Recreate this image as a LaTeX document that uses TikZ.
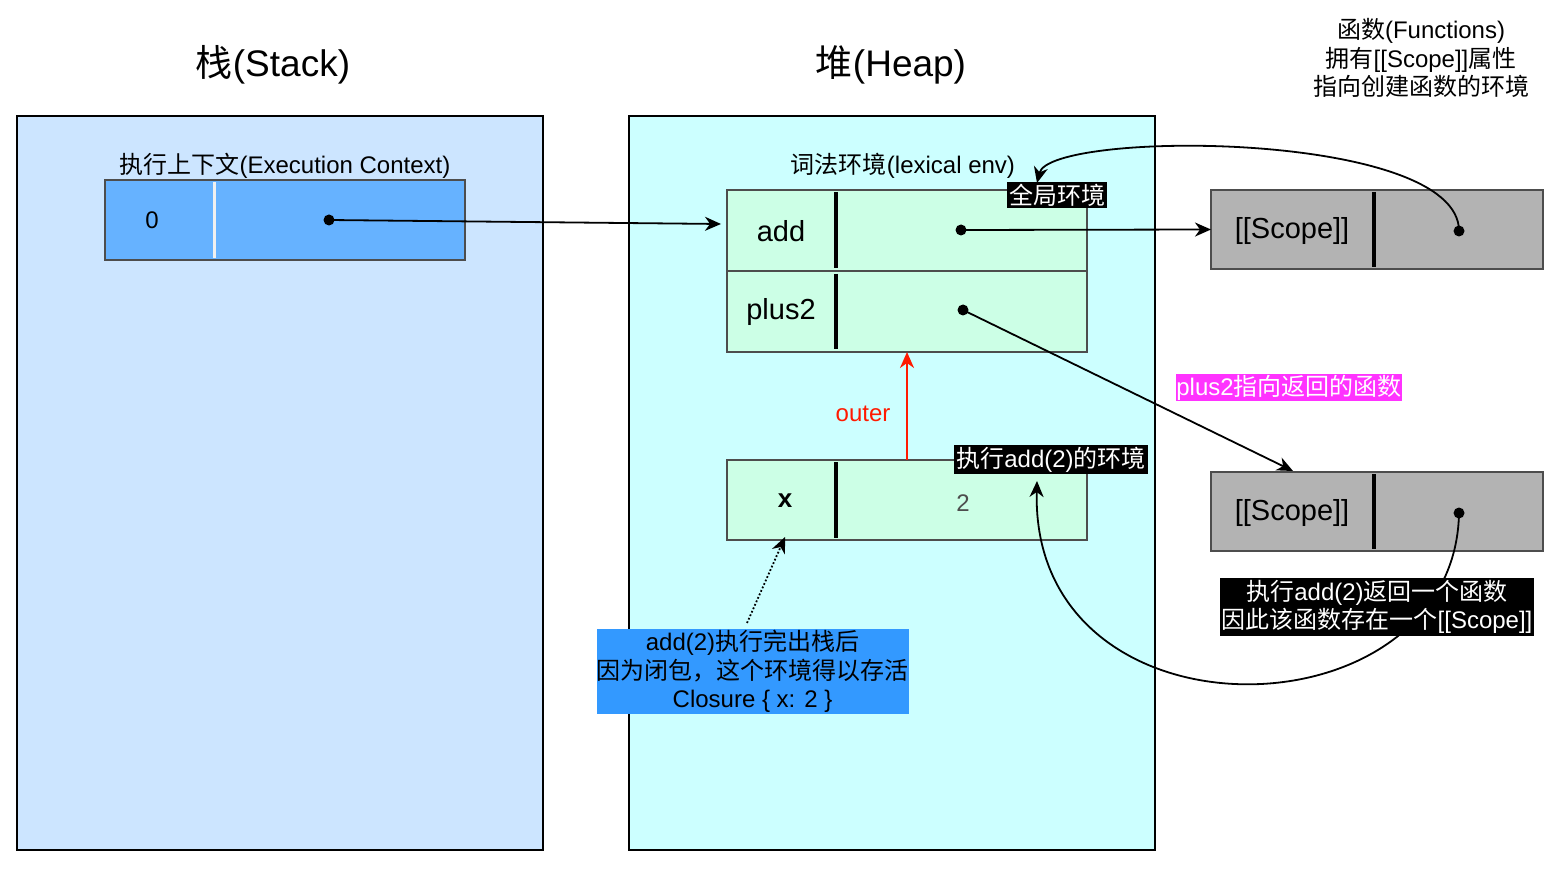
\documentclass[tikz,border=0pt]{standalone}
\usepackage{fontspec}
\setmainfont{Liberation Sans}
\newfontfamily\cjk{Noto Sans CJK SC}
\usetikzlibrary{arrows.meta}
\definecolor{stackfill}{HTML}{CCE5FF}
\definecolor{heapfill}{HTML}{CCFFFF}
\definecolor{ecfill}{HTML}{66B2FF}
\definecolor{envfill}{HTML}{CCFFE6}
\definecolor{scopefill}{HTML}{B3B3B3}
\definecolor{rimgray}{HTML}{4D4D4D}
\definecolor{valgray}{HTML}{4D4D4D}
\definecolor{outred}{HTML}{FF1A00}
\definecolor{notefill}{HTML}{3399FF}
\definecolor{tagmagenta}{HTML}{FF33FF}
\newcommand{\zh}[1]{{\cjk #1}}
\begin{document}
\begin{tikzpicture}[x=0.5pt,y=-0.5pt,
  every node/.style={font=\fontsize{12}{14.25}\selectfont, inner sep=0pt, outer sep=0pt},
  area/.style={draw=black, line width=1pt},
  rec/.style={draw=rimgray, line width=1pt, minimum width=180pt, minimum height=40pt},
  divider/.style={line width=2pt, black},
  dot/.style={circle, fill=black, minimum size=5.5pt},
  big/.style={font=\fontsize{14.5}{16}\selectfont},
  titlef/.style={font=\fontsize{18.5}{20}\selectfont},
  conn/.style={line width=0.9pt, -{Stealth[length=8pt,width=7pt,inset=2.5pt]}},
  tag/.style={fill=black, text=white, inner xsep=1pt, inner ysep=1pt},
]
\useasboundingbox (0,0) rectangle (1566,876);

% areas
\node[area, fill=stackfill, minimum width=263pt, minimum height=367pt] (stack) at (280,483) {};
\node[area, fill=heapfill, minimum width=263pt, minimum height=367pt] (heap) at (892,483) {};
\node[titlef] (stackT) at (273,65) {\zh{栈}(Stack)};
\node[titlef] (heapT) at (891,65) {\zh{堆}(Heap)};
\node[align=center] (fnhdr) at (1421,58) {\zh{函数}(Functions)\\\zh{拥有}[[Scope]]\zh{属性}\\\zh{指向创建函数的环境}};

% execution context
\node (ecT) at (285,166) {\zh{执行上下文}(Execution Context)};
\node[rec, fill=ecfill] (ec) at (285,220) {};
\draw[white!94!black, line width=1.5pt] (214,182) -- (214,258);
\node (ec0) at (152,220) {0};
\node[dot] (ecdot) at (329,220) {};

% lexical env
\node (envT) at (903,166) {\zh{词法环境}(lexical env)};
\node[rec, fill=envfill, minimum height=81pt] (env) at (907,271) {};
\draw[rimgray, line width=1.3pt] (727,271) -- (1087,271);
\draw[divider] (836,192) -- (836,268);
\draw[divider] (836,274) -- (836,349);
\node[big] (addK) at (781,231) {add};
\node[big] (plusK) at (781,312) {plus2};
\node[dot] (adddot) at (961,230) {};
\node[dot] (plusdot) at (963,310) {};

% add(2) env
\node[rec, fill=envfill] (env2) at (907,500) {};
\draw[divider] (836,462) -- (836,538);
\node[font=\bfseries\fontsize{13}{15}\selectfont] (xK) at (785,501) {x};
\node[text=valgray] (xV) at (963,503) {2};
\node[text=outred] (outerL) at (863,414) {outer};

% scopes
\node[rec, fill=scopefill, minimum width=166pt, minimum height=39.5pt] (sc1) at (1377,229.5) {};
\draw[divider] (1374,192) -- (1374,267);
\node[big] (sc1K) at (1292,231) {[[Scope]]};
\node[dot] (sc1dot) at (1459,231) {};
\node[rec, fill=scopefill, minimum width=166pt, minimum height=39.5pt] (sc2) at (1377,511.5) {};
\draw[divider] (1374,474) -- (1374,549);
\node[big] (sc2K) at (1292,513) {[[Scope]]};
\node[dot] (sc2dot) at (1459,513) {};

% notes
\node[fill=notefill, align=center, minimum width=155.5pt, minimum height=42.5pt] (note) at (752.5,671.5)
  {add(2)\zh{执行完出栈后}\\\zh{因为闭包，这个环境得以存活}\\Closure \{ x: 2 \}};

% connectors
\coordinate (envin) at (721,224);
\coordinate (sc2in) at (1293,471);
\coordinate (globin) at (1037,183);
\coordinate (e2in) at (1037,481);
\coordinate (xin) at (785,537);
\coordinate (notein) at (747,623);
\draw[conn] (ecdot.center) -- (envin);
\draw[conn] (adddot.center) -- (sc1.west);
\draw[conn] (plusdot.center) -- (sc2in);
\draw[conn, outred] (env2.north) -- (env.south);
\draw[conn] (sc1dot.center) .. controls (1459,130) and (1050,130) .. (globin);
\draw[conn] (sc2dot.center) .. controls (1455,740) and (1030,750) .. (e2in);
\draw[conn, densely dotted] (notein) -- (xin);

% tags
\node[tag, minimum width=48pt, minimum height=13pt] (glob) at (1057,195) {\zh{全局环境}};
\node[tag, minimum width=95pt, minimum height=12.5pt] (e2tag) at (1051,459.5) {\zh{执行}add(2)\zh{的环境}};
\node[fill=tagmagenta, text=white, minimum width=113pt, minimum height=13.5pt] (plusL) at (1289,388) {plus2\zh{指向返回的函数}};
\node[tag, align=center, minimum width=155pt, minimum height=29pt] (retL) at (1377,607)
  {\zh{执行}add(2)\zh{返回一个函数}\\\zh{因此该函数存在一个}[[Scope]]};
\end{tikzpicture}
\end{document}
